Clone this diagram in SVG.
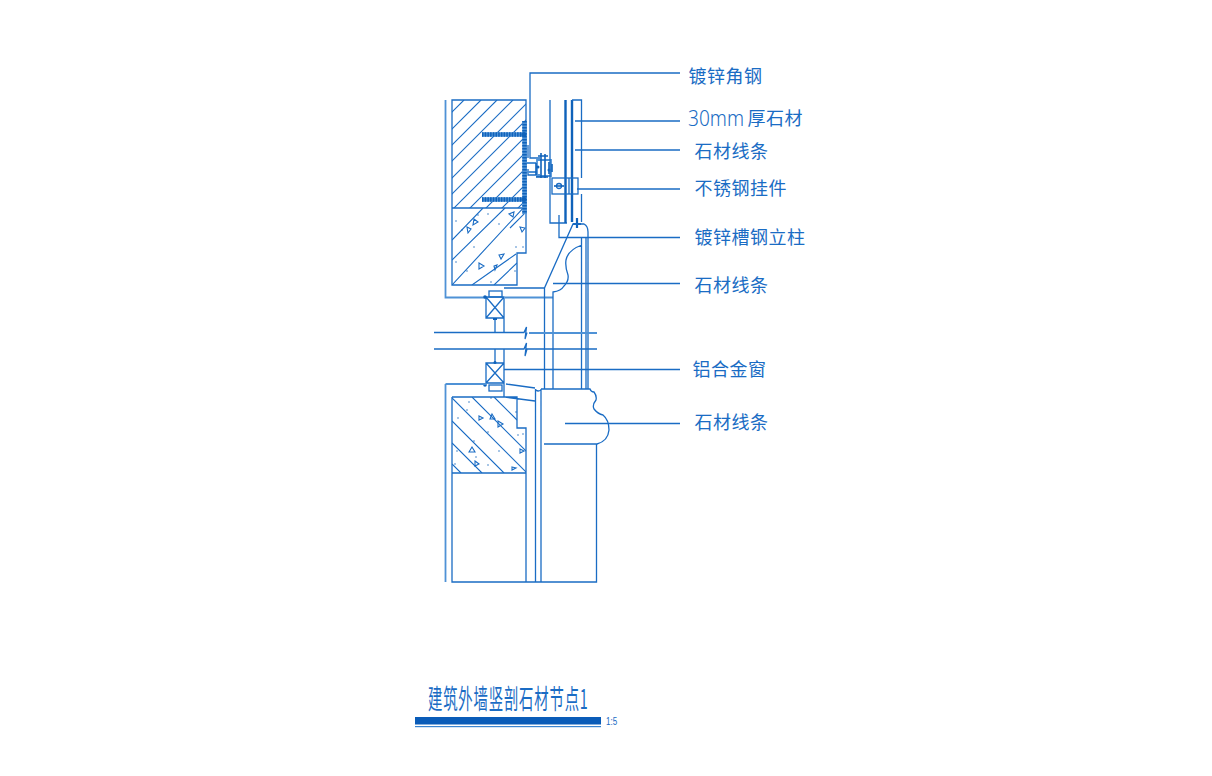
<svg xmlns="http://www.w3.org/2000/svg" width="1212" height="776" viewBox="0 0 1212 776">
<style>
.l{fill:none;stroke:#1a6cc4;stroke-width:1.300}
.t{fill:none;stroke:#1a6cc4;stroke-width:1.100}
.h{fill:none;stroke:#0f62ba;stroke-width:2.400}
.w{fill:none;stroke:#4f92d6;stroke-width:1.800}
.d{fill:#0f62ba}
.x{font-family:"Noto Sans CJK SC","Noto Sans",sans-serif;font-weight:400;font-size:18px;letter-spacing:.5px;fill:#1a6cc4}
</style>
<defs>
<clipPath id="c1"><rect x="452" y="100" width="74" height="108"/></clipPath>
<clipPath id="c2"><path d="M452 208H526V253H517V285H452Z"/></clipPath>
<clipPath id="c3"><path d="M452 397H517V428H526V473H452Z"/></clipPath>
</defs>
<rect width="1212" height="776" fill="#fff"/>
<g id="connectors">
<path class="l" d="M680 73H530V158H540M680 121H575M680 150H575M680 189H577M680 237.500H559V215M680 283.500H553M680 369.500H504M680 423.500H565"/>
</g>
<g id="upper-wall">
<path class="w" d="M445.500 100V297.500H486M505 297.500H553M445.500 384V582"/>
<path class="l" d="M452 100H526V253H517V285H452ZM452 208H526"/>
<g clip-path="url(#c1)"><path class="t" d="M464 100L440 124M481 100L440 141M497 100L440 157M513 100L440 173M530 100L440 190M530 116L440 206M530 132L440 222M530 148L460 218M530 164L480 214M530 180L495 215M530 196L510 216"/></g>
<g clip-path="url(#c2)"><path class="t" d="M483 208L452 240M505 208L452 260M526 205L452 285M516 254L472 285M517 263L494 285M530 208L510 228"/></g>
<path d="M482 134.500H524M482 199.500H524" fill="none" stroke="#4f92d6" stroke-width="4.500"/>
<path d="M482 134.500H524M482 199.500H524" fill="none" stroke="#0f62ba" stroke-width="4.500" stroke-dasharray="1.500 1.200"/>
<path d="M524.500 121V214" fill="none" stroke="#4f92d6" stroke-width="4.500"/>
<path d="M524.500 121V214" fill="none" stroke="#0f62ba" stroke-width="4.500" stroke-dasharray="1.500 1.500"/>
<circle class="d" cx="524" cy="134.500" r="2.500"/>
<circle class="d" cx="524" cy="199.500" r="2.500"/>
<path class="l" d="M528 145V158M528 169V175H540"/>
<g class="t"><path d="M474 219l4 3-5 3zM467 227l4 2-3 4zM514 212l-1 5-4-3zM520 227l5 1-3 4zM499 255l5-1-3 5zM479 263l5 3-5 3zM494 266l3-1-2 5z"/></g>
<g class="d"><circle cx="456" cy="221" r=".7"/><circle cx="462" cy="230" r=".7"/><circle cx="478" cy="215" r=".7"/><circle cx="488" cy="214" r=".7"/><circle cx="499" cy="224" r=".7"/><circle cx="474" cy="247" r=".7"/><circle cx="467" cy="271" r=".7"/><circle cx="456" cy="262" r=".7"/><circle cx="491" cy="282" r=".7"/><circle cx="516" cy="247" r=".7"/><circle cx="523" cy="247" r=".7"/><circle cx="515" cy="271" r=".7"/></g>
</g>
<g id="angle-bolt">
<path class="w" d="M527 163H536M527 172H536M537 160H551V176H537Z"/>
<path class="h" d="M541 153V178M545 154V178M538 156H548M536 177H548" style="stroke-width:1.600"/>
<path class="h" d="M536 163V175M549 162V174M552 164V172" style="stroke-width:1.600"/>
<circle class="d" cx="538" cy="167" r="1.500"/><circle class="d" cx="549" cy="170" r="1.500"/>
</g>
<g id="stone-panel">
<path class="l" d="M550 100V223H567"/>
<path class="h" d="M565.500 100V223M572 100V222"/>
<path class="l" d="M572 100H581.500V178M581.500 194V222"/>
<rect class="l" x="552" y="178" width="26" height="16"/>
<path class="l" d="M569 178V194"/>
<circle class="l" cx="559" cy="186" r="2.500"/>
<path class="h" d="M554 186H564" style="stroke-width:1.600"/>
<path class="h" d="M577 218V228M573 224H581" style="stroke-width:2.200"/>
</g>
<g id="upper-molding">
<path class="l" d="M544.500 389V288L573 224H584Q588 226 588 232V389M581.500 238V389M586 238V389M504 288H544.500M553 389V292Q561 291 564 286Q569 281 568 275Q565 267 566 260Q568 250 582 245"/>
</g>
<g id="window">
<path class="l" d="M504 297V332M486 297H504V318H486ZM486 297L504 318M504 297L486 318M495 318V332"/>
<rect class="l" x="489" y="291" width="13" height="6"/>
<circle class="d" cx="485" cy="297" r="1.800"/>
<rect class="d" x="493" y="318" width="4" height="2"/>
<path class="l" d="M504 349V384M486 363H504V383H486ZM486 363L504 383M504 363L486 383M495 349V363"/>
<rect class="l" x="489" y="385" width="13" height="6"/>
<circle class="d" cx="485" cy="385" r="1.800"/>
<circle class="d" cx="495" cy="362.500" r="1.500"/>
<path class="w" d="M445.500 384H486"/>
</g>
<g id="break-lines">
<path class="l" d="M434 332.500H524L526.500 327L525 339L527 332.500"/>
<path class="w" d="M529 333H597"/>
<path class="l" d="M434 349H524L526.500 343L525 356L527 349H597"/>
</g>
<g id="lower-wall">
<path class="l" d="M452 397H517V428H526V582M452 397V582H596.500V444M452 473H526M506 384L535 388M504 384V397L535 401"/>
<g clip-path="url(#c3)"><path class="t" d="M452 398L527 473M472 397L530 455M494 397L517 420M452 421L504 473M452 443L482 473M452 464L461 473"/></g>
<g class="t"><path d="M479 416l4 2-4 2zM492 414l3 5-5 0zM498 421l5 3-5 3zM469 452l3-5 3 5zM475 461l4 3-4 2zM520 449l4 2-4 2zM512 467l4 1-4 2z"/></g>
<g class="d"><circle cx="469" cy="402" r=".7"/><circle cx="491" cy="398" r=".7"/><circle cx="467" cy="410" r=".7"/><circle cx="458" cy="418" r=".7"/><circle cx="516" cy="412" r=".7"/><circle cx="488" cy="432" r=".7"/><circle cx="518" cy="435" r=".7"/><circle cx="523" cy="434" r=".7"/><circle cx="474" cy="441" r=".7"/><circle cx="457" cy="451" r=".7"/><circle cx="499" cy="451" r=".7"/><circle cx="476" cy="457" r=".7"/><circle cx="488" cy="465" r=".7"/><circle cx="455" cy="464" r=".7"/></g>
</g>
<g id="lower-molding">
<path class="l" d="M535.500 389V582M541 389V582M536 390Q538 392 541 390M541 389H590Q591 392 594 392Q597 396 596 400Q592 405 594 409Q598 414 603 415Q609 420 609 430Q608 441 597 444H544"/>
</g>
<g id="labels">
<text class="x" x="688.500" y="82.500">镀锌角钢</text>
<text x="688" y="126" textLength="56" lengthAdjust="spacingAndGlyphs" style="font-family:'Noto Sans',sans-serif;font-weight:300;font-size:21px;fill:#1a6cc4">30mm</text>
<text class="x" x="747.500" y="125">厚石材</text>
<text class="x" x="694.500" y="158">石材线条</text>
<text class="x" x="694.500" y="195">不锈钢挂件</text>
<text class="x" x="694.500" y="244">镀锌槽钢立柱</text>
<text class="x" x="694.500" y="292">石材线条</text>
<text class="x" x="692.500" y="376">铝合金窗</text>
<text class="x" x="694.500" y="429">石材线条</text>
</g>
<g id="title">
<text transform="translate(428 709) scale(.72 1.35)" style="font-family:'Noto Sans CJK SC',sans-serif;font-weight:400;font-size:20px;fill:#1a6cc4;letter-spacing:1.100px">建筑外墙竖剖石材节点1</text>
<rect x="415" y="717" width="186" height="7.500" fill="#0a5cb8"/>
<rect x="415" y="726" width="186" height="1.200" fill="#3a84d0"/>
<text transform="translate(606 725) scale(.8 1)" style="font-family:'Liberation Sans',sans-serif;font-size:10px;fill:#1a6cc4">1:5</text>
</g>
</svg>
